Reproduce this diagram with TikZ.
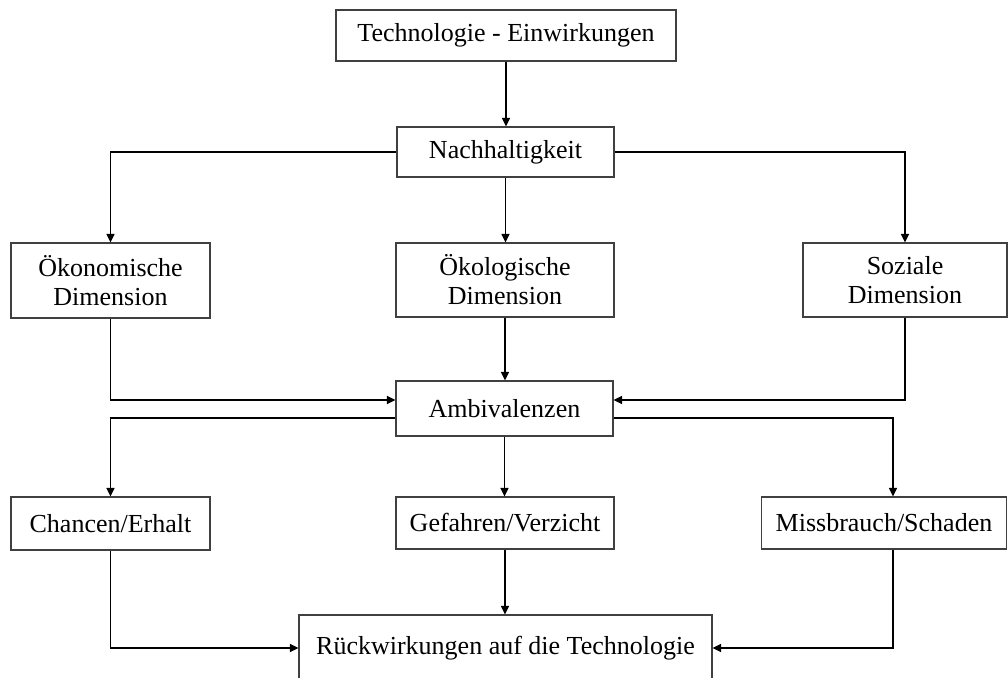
\documentclass[tikz,border=0pt]{standalone}
\usepackage{fontspec}
\setmainfont{Liberation Serif}
\usetikzlibrary{arrows.meta}
\begin{document}
\begin{tikzpicture}[x=1pt,y=-1pt,
  box/.style={draw=black!75, line width=1.2pt, inner sep=0pt, align=center,
    font=\fontsize{26}{29}\selectfont},
  conn/.style={line width=1.5pt, -{Triangle[length=8.5pt,width=8pt]}}]
\useasboundingbox (0,0) rectangle (1008,677);
\node[box, minimum width=340pt, minimum height=51pt] (t) at (506,35.5) {Technologie - Einwirkungen};
\node[box, minimum width=217pt, minimum height=50pt] (n) at (505.5,152) {Nachhaltigkeit};
\node[box, minimum width=199pt, minimum height=75pt] (oek) at (110.5,280.5) {Ökonomische\\Dimension};
\node[box, minimum width=218pt, minimum height=74pt] (oeko) at (505,280) {Ökologische\\Dimension};
\node[box, minimum width=204pt, minimum height=74pt] (soz) at (905,280) {Soziale\\Dimension};
\node[box, minimum width=217pt, minimum height=55pt] (a) at (504.5,408.5) {Ambivalenzen};
\node[box, minimum width=199pt, minimum height=53pt] (c) at (110.5,523.5) {Chancen/Erhalt};
\node[box, minimum width=218pt, minimum height=52pt] (g) at (505,523) {Gefahren/Verzicht};
\node[box, minimum width=245pt, minimum height=52pt] (m) at (884,523) {Missbrauch/Schaden};
\node[box, minimum width=413pt, minimum height=66pt] (r) at (505.5,648) {Rückwirkungen auf die Technologie};
\coordinate (mx) at (893,0);

\draw[conn] (t.south) -- (t.south |- n.north);
\draw[conn] (n.west) -| (oek.north);
\draw[conn] (n.east) -| (soz.north);
\draw[conn] (n.south) -- (n.south |- oeko.north);
\draw[conn] (oek.south) |- ([yshift=8.5pt]a.west);
\draw[conn] (soz.south) |- ([yshift=8.5pt]a.east);
\draw[conn] (oeko.south) -- (oeko.south |- a.north);
\draw[conn] ([yshift=-9.5pt]a.west) -| (c.north);
\draw[conn] ([yshift=-9.5pt]a.east) -| (mx |- m.north);
\draw[conn] (a.south) -- (a.south |- g.north);
\draw[conn] (c.south) |- (r.west);
\draw[conn] (mx |- m.south) |- (r.east);
\draw[conn] (g.south) -- (g.south |- r.north);
\end{tikzpicture}
\end{document}
